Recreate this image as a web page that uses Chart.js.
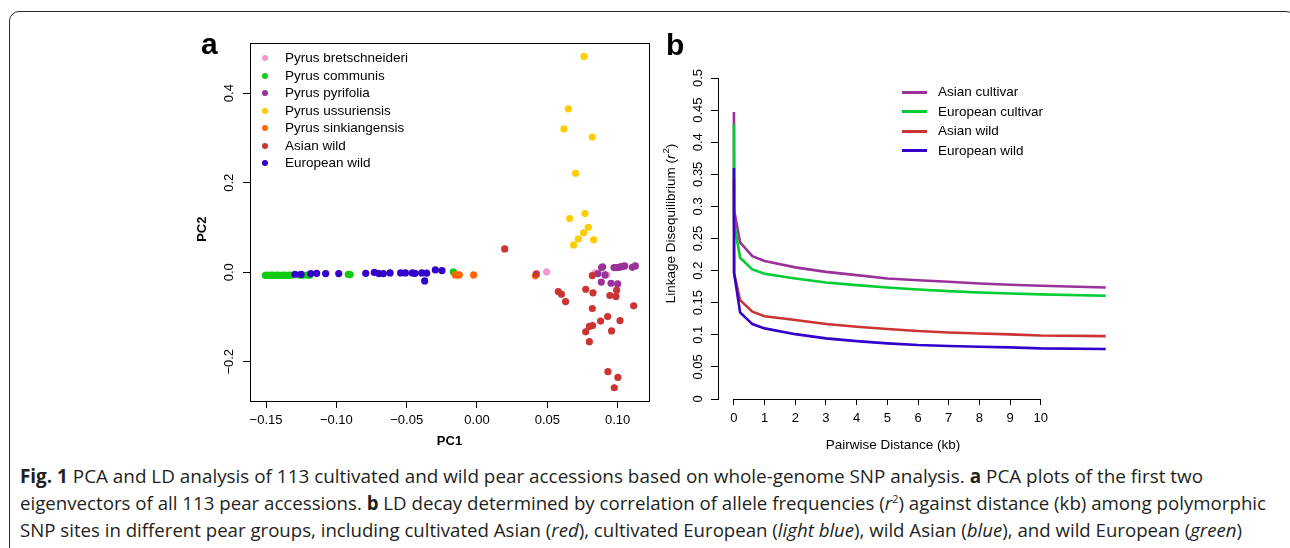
<!DOCTYPE html>
<html>
<head>
<meta charset="utf-8">
<title>Fig. 1 PCA and LD decay</title>
<script src="https://cdn.jsdelivr.net/npm/chart.js@4/dist/chart.umd.min.js"></script>
<style>
  html, body { margin: 0; padding: 0; background: #fff; }
  body { width: 1290px; height: 548px; position: relative; overflow: hidden;
         font-family: "Liberation Sans", Arial, Helvetica, sans-serif; }
  #frame { position: absolute; left: 9px; top: 11px; width: 1287px; height: 600px;
           border: 1.5px solid #2b2b2b; border-radius: 10px; box-sizing: border-box; }
  canvas { position: absolute; top: 30px; }
  #pca { left: 180px; }
  #ld { left: 650px; }
  .tag { position: absolute; font-weight: bold; font-size: 30px; line-height: 30px; color: #000; }
  .leg { position: absolute; font-size: 13.5px; color: #000; white-space: nowrap; }
  .leg .row { position: absolute; left: 0; height: 18px; line-height: 18px; }
  .leg .dot { position: absolute; width: 6px; height: 6px; border-radius: 50%; top: 6px; }
  .leg .ln { position: absolute; width: 25px; height: 3px; top: 7.5px; }
  .cap { position: absolute; left: 20px; font-family: "Open Sans", sans-serif; font-size: 19px;
         line-height: 19px; color: #231f20; white-space: nowrap; transform-origin: 0 50%; }
  .cap b { font-weight: bold; }
</style>
</head>
<body>
<div id="frame"></div>
<canvas id="pca" width="480" height="430"></canvas>
<canvas id="ld" width="480" height="430"></canvas>
<div class="tag" style="left:201px; top:29px;">a</div>
<div class="tag" style="left:666px; top:30px;">b</div>
<div id="legA" class="leg"></div>
<div id="legB" class="leg"></div>
<div class="cap" style="top:467px;"><b>Fig. 1</b> PCA and LD analysis of 113 cultivated and wild pear accessions based on whole-genome SNP analysis. <b>a</b> PCA plots of the first two</div>
<div class="cap" style="top:494px;">eigenvectors of all 113 pear accessions. <b>b</b> LD decay determined by correlation of allele frequencies (<i>r</i><sup style="font-size:11px;line-height:0">2</sup>) against distance (kb) among polymorphic</div>
<div class="cap" style="top:521px;">SNP sites in different pear groups, including cultivated Asian (<i>red</i>), cultivated European (<i>light blue</i>), wild Asian (<i>blue</i>), and wild European (<i>green</i>)</div>
<script>
// ---- panel a: PCA ----
const groupNames = ['Pyrus bretschneideri', 'Pyrus communis', 'Pyrus pyrifolia', 'Pyrus ussuriensis',
                    'Pyrus sinkiangensis', 'Asian wild', 'European wild'];
const groupColors = ['#f799c8', '#11cc11', '#993399', '#ffcc00', '#ff6600', '#cc3333', '#3300cc'];

const brPC1 = [0.0495, 0.0839, 0.0922];
const brPC2 = [0.0007, -0.002, -0.006];

const coPC1 = [-0.1505, -0.1492, -0.1480, -0.1468, -0.1457, -0.1446, -0.1434, -0.1421, -0.1409, -0.1397,
               -0.1384, -0.1371, -0.1359, -0.1347, -0.1334, -0.1322, -0.1262, -0.1240, -0.1208, -0.1190,
               -0.0915, -0.0902, -0.0168];
const coPC2 = [-0.0068, -0.0066, -0.0068, -0.0067, -0.0066, -0.0068, -0.0067, -0.0066, -0.0068, -0.0067,
               -0.0068, -0.0066, -0.0067, -0.0068, -0.0066, -0.0067, -0.0065, -0.0066, -0.0064, -0.0066,
               -0.0050, -0.0052, 0.0007];

const pyPC1 = [0.0893, 0.0886, 0.0860, 0.0910, 0.0884, 0.0953, 0.1000, 0.0974, 0.0986, 0.0998,
               0.1010, 0.1021, 0.1035, 0.1050, 0.1104, 0.1126];
const pyPC2 = [0.012, 0.0104, -0.003, -0.006, -0.022, -0.0246, -0.026, 0.0104, 0.0104, 0.0104,
               0.011, 0.012, 0.013, 0.0142, 0.011, 0.0142];

const usPC1 = [0.0761, 0.0649, 0.0618, 0.0820, 0.0701, 0.0768, 0.0659, 0.0791, 0.0758, 0.0720, 0.0829, 0.0687];
const usPC2 = [0.482, 0.365, 0.320, 0.302, 0.221, 0.131, 0.120, 0.100, 0.088, 0.0745, 0.0723, 0.0611];

const siPC1 = [-0.0154, -0.0140, -0.0126, -0.0024, 0.0415];
const siPC2 = [-0.006, -0.0058, -0.006, -0.006, -0.008];

const awPC1 = [0.0197, 0.0422, 0.0820, 0.0578, 0.0600, 0.0630, 0.0773, 0.0825, 0.0945, 0.0988,
               0.0993, 0.1114, 0.0820, 0.0929, 0.1017, 0.0879, 0.0822, 0.0799, 0.0773, 0.0957,
               0.0799, 0.0931, 0.1002, 0.0976];
const awPC2 = [0.052, -0.0037, -0.0075, -0.043, -0.049, -0.0656, -0.038, -0.046, -0.052, -0.054,
               -0.040, -0.075, -0.081, -0.099, -0.108, -0.109, -0.119, -0.121, -0.133, -0.131,
               -0.155, -0.222, -0.235, -0.258];

const ewPC1 = [-0.1294, -0.1251, -0.1182, -0.1140, -0.1076, -0.0983, -0.0791, -0.0730, -0.0697, -0.0666,
               -0.0618, -0.0543, -0.0509, -0.0460, -0.0441, -0.0393, -0.0358, -0.0372, -0.0296, -0.0249];
const ewPC2 = [-0.0045, -0.0050, -0.0030, -0.0025, -0.0030, -0.0030, -0.0025, -0.0005, -0.0030, -0.0030,
               -0.0015, -0.0015, -0.0015, -0.0015, -0.0025, -0.0015, -0.0020, -0.0194, 0.0052, 0.0037];

const pc1Ticks = [-0.15, -0.10, -0.05, 0.00, 0.05, 0.10];
const pc1Labels = ['\u22120.15', '\u22120.10', '\u22120.05', '0.00', '0.05', '0.10'];
const pc2Ticks = [-0.2, 0.0, 0.2, 0.4];
const pc2Labels = ['\u22120.2', '0.0', '0.2', '0.4'];

// ---- panel b: LD decay ----
const ldNames = ['Asian cultivar', 'European cultivar', 'Asian wild', 'European wild'];
const ldColors = ['#993399', '#00cc33', '#cc3333', '#3300cc'];
const distKb = [0, 0.005, 0.2, 0.6, 1, 2, 3, 4, 5, 6, 7, 8, 9, 10, 12.12];
const r2AsianCult = [0.447, 0.294, 0.244, 0.2225, 0.2150, 0.205, 0.198, 0.193, 0.1878, 0.185, 0.1826, 0.180, 0.178, 0.1763, 0.1737];
const r2EuroCult  = [0.428, 0.274, 0.220, 0.2018, 0.1950, 0.1878, 0.1815, 0.1774, 0.1737, 0.1706, 0.168, 0.166, 0.1644, 0.1629, 0.1608];
const r2AsianWild = [0.343, 0.196, 0.154, 0.136, 0.1290, 0.123, 0.1167, 0.1125, 0.109, 0.1058, 0.1037, 0.102, 0.1006, 0.099, 0.098];
const r2EuroWild  = [0.360, 0.196, 0.135, 0.1167, 0.1100, 0.101, 0.0944, 0.0902, 0.0866, 0.084, 0.0825, 0.0814, 0.0804, 0.0788, 0.0778];
const distTicks = [0, 1, 2, 3, 4, 5, 6, 7, 8, 9, 10];
const distLabels = ['0', '1', '2', '3', '4', '5', '6', '7', '8', '9', '10'];
const r2Ticks = [0, 0.05, 0.1, 0.15, 0.2, 0.25, 0.3, 0.35, 0.4, 0.45, 0.5];
const r2Labels = ['0', '0.05', '0.1', '0.15', '0.2', '0.25', '0.3', '0.35', '0.4', '0.45', '0.5'];

Chart.defaults.font.family = "'Liberation Sans', Arial, Helvetica, sans-serif";
Chart.defaults.color = '#000';

const tickFont = { size: 13 };

const boxPlugin = {
  id: 'box',
  afterDraw(chart) {
    const { ctx, chartArea: a } = chart;
    ctx.save();
    ctx.strokeStyle = '#000';
    ctx.lineWidth = 1;
    ctx.strokeRect(a.left + 0.5, a.top + 0.5, a.right - a.left, a.bottom - a.top);
    ctx.restore();
  }
};

const pcaX = [brPC1, coPC1, pyPC1, usPC1, siPC1, awPC1, ewPC1];
const pcaY = [brPC2, coPC2, pyPC2, usPC2, siPC2, awPC2, ewPC2];

new Chart(document.getElementById('pca'), {
  type: 'scatter',
  data: {
    datasets: groupNames.map((name, i) => ({
      label: name,
      data: pcaX[i].map((x, j) => ({ x: x, y: pcaY[i][j] })),
      backgroundColor: groupColors[i],
      borderWidth: 0,
      pointRadius: 3.6,
      order: groupNames.length - i
    }))
  },
  options: {
    responsive: false,
    animation: false,
    events: [],
    devicePixelRatio: 1,
    layout: { padding: { top: 13, right: 11, left: 0, bottom: 0 } },
    plugins: { legend: { display: false }, tooltip: { enabled: false } },
    scales: {
      x: {
        type: 'linear', min: -0.1614, max: 0.1223,
        afterBuildTicks: s => { s.ticks = pc1Ticks.map(v => ({ value: v })); },
        afterFit: s => { s.height = 59; },
        ticks: { callback: (v, i) => pc1Labels[i], font: tickFont, padding: 5, maxRotation: 0, autoSkip: false },
        grid: { drawOnChartArea: false, tickLength: 7, color: '#000' },
        border: { display: false },
        title: { display: true, text: 'PC1', font: { size: 13, weight: 'bold' }, padding: { top: 0, bottom: 11 } }
      },
      y: {
        type: 'linear', min: -0.2876, max: 0.512,
        afterBuildTicks: s => { s.ticks = pc2Ticks.map(v => ({ value: v })); },
        afterFit: s => { s.width = 70; },
        ticks: { callback: (v, i) => pc2Labels[i], font: tickFont, padding: 1, minRotation: 90, maxRotation: 90,
                 crossAlign: 'center', autoSkip: false },
        grid: { drawOnChartArea: false, tickLength: 7, color: '#000' },
        border: { display: false },
        title: { display: true, text: 'PC2\u00a0\u00a0\u00a0\u00a0', font: { size: 13, weight: 'bold' }, padding: { top: 15, bottom: 0 } }
      }
    }
  },
  plugins: [boxPlugin]
});

// x axis line of panel b spans only the labelled range, as in the original
const axisLinePlugin = {
  id: 'axisLine',
  afterDraw(chart) {
    const { ctx, chartArea: a } = chart;
    const xs = chart.scales.x;
    ctx.save();
    ctx.strokeStyle = '#000';
    ctx.lineWidth = 1;
    ctx.beginPath();
    ctx.moveTo(xs.getPixelForValue(distTicks[0]), Math.round(a.bottom) + 0.5);
    ctx.lineTo(xs.getPixelForValue(distTicks[distTicks.length - 1]), Math.round(a.bottom) + 0.5);
    ctx.stroke();
    ctx.restore();
  }
};

// y title with italic r and superscript 2
const r2TitlePlugin = {
  id: 'r2Title',
  afterDraw(chart) {
    const { ctx } = chart;
    const ys = chart.scales.y;
    const fam = Chart.defaults.font.family;
    const parts = [
      { t: 'Linkage Disequilibrium (', f: '13.5px ' + fam, dy: 0 },
      { t: 'r', f: 'italic 13.5px ' + fam, dy: 0 },
      { t: '2', f: '9.5px ' + fam, dy: -5 },
      { t: ')', f: '13.5px ' + fam, dy: 0 }
    ];
    let total = 0;
    parts.forEach(p => { ctx.font = p.f; p.w = ctx.measureText(p.t).width; total += p.w; });
    ctx.save();
    ctx.translate(ys.left + 21, chart.chartArea.top + 146);
    ctx.rotate(-Math.PI / 2);
    ctx.fillStyle = '#000';
    ctx.textBaseline = 'middle';
    let x = -total / 2;
    parts.forEach(p => { ctx.font = p.f; ctx.fillText(p.t, x, p.dy); x += p.w + (p.t === 'r' ? 1 : 0); });
    ctx.restore();
  }
};

const ldSeries = [r2AsianCult, r2EuroCult, r2AsianWild, r2EuroWild];

new Chart(document.getElementById('ld'), {
  type: 'line',
  data: {
    datasets: ldNames.map((name, i) => ({
      label: name,
      data: distKb.map((x, j) => ({ x: x, y: ldSeries[i][j] })),
      borderColor: ldColors[i],
      borderWidth: 2.6,
      pointRadius: 0,
      tension: 0,
      fill: false,
      clip: false,
      order: ldNames.length - i
    }))
  },
  options: {
    responsive: false,
    animation: false,
    events: [],
    devicePixelRatio: 1,
    layout: { padding: { top: 48, right: 62, left: 0, bottom: 0 } },
    plugins: { legend: { display: false }, tooltip: { enabled: false } },
    scales: {
      x: {
        type: 'linear', min: -0.52, max: 10.89,
        afterBuildTicks: s => { s.ticks = distTicks.map(v => ({ value: v })); },
        afterFit: s => { s.height = 61; },
        ticks: { callback: (v, i) => distLabels[i], font: tickFont, padding: 6, maxRotation: 0, autoSkip: false },
        grid: { drawOnChartArea: false, tickLength: 6, color: '#000' },
        border: { display: false },
        title: { display: true, text: 'Pairwise Distance (kb)', font: { size: 13.5 }, padding: { top: 0, bottom: 7 } }
      },
      y: {
        type: 'linear', min: 0, max: 0.5,
        afterBuildTicks: s => { s.ticks = r2Ticks.map(v => ({ value: v })); },
        afterFit: s => { s.width = 68; },
        ticks: { callback: (v, i) => r2Labels[i], font: tickFont, padding: 0, minRotation: 90, maxRotation: 90,
                 crossAlign: 'center', autoSkip: false },
        grid: { drawOnChartArea: false, tickLength: 7, color: '#000' },
        border: { display: true, color: '#000', width: 1 }
      }
    }
  },
  plugins: [axisLinePlugin, r2TitlePlugin]
});

// ---- legends ----
const legA = document.getElementById('legA');
legA.style.left = '262px';
legA.style.top = '49px';
groupNames.forEach((name, i) => {
  const row = document.createElement('div');
  row.className = 'row';
  row.style.top = (i * 17.5) + 'px';
  row.innerHTML = `<span class="dot" style="left:0;background:${groupColors[i]}"></span><span style="position:absolute;left:23px">${name}</span>`;
  legA.appendChild(row);
});

const legB = document.getElementById('legB');
legB.style.left = '902px';
legB.style.top = '83px';
ldNames.forEach((name, i) => {
  const row = document.createElement('div');
  row.className = 'row';
  row.style.top = (i * 19.5) + 'px';
  row.innerHTML = `<span class="ln" style="left:0;background:${ldColors[i]}"></span><span style="position:absolute;left:36px">${name}</span>`;
  legB.appendChild(row);
});

// ---- caption: squeeze each line to the width it has in the figure ----
const captionEnds = [1203, 1266, 1242];
function fitCaption() {
  document.querySelectorAll('.cap').forEach((el, i) => {
    el.style.transform = 'none';
    const w = el.getBoundingClientRect().width;
    el.style.transform = 'scaleX(' + ((captionEnds[i] - 20) / w) + ')';
  });
}
fitCaption();
if (document.fonts && document.fonts.ready) document.fonts.ready.then(fitCaption);
</script>
</body>
</html>
